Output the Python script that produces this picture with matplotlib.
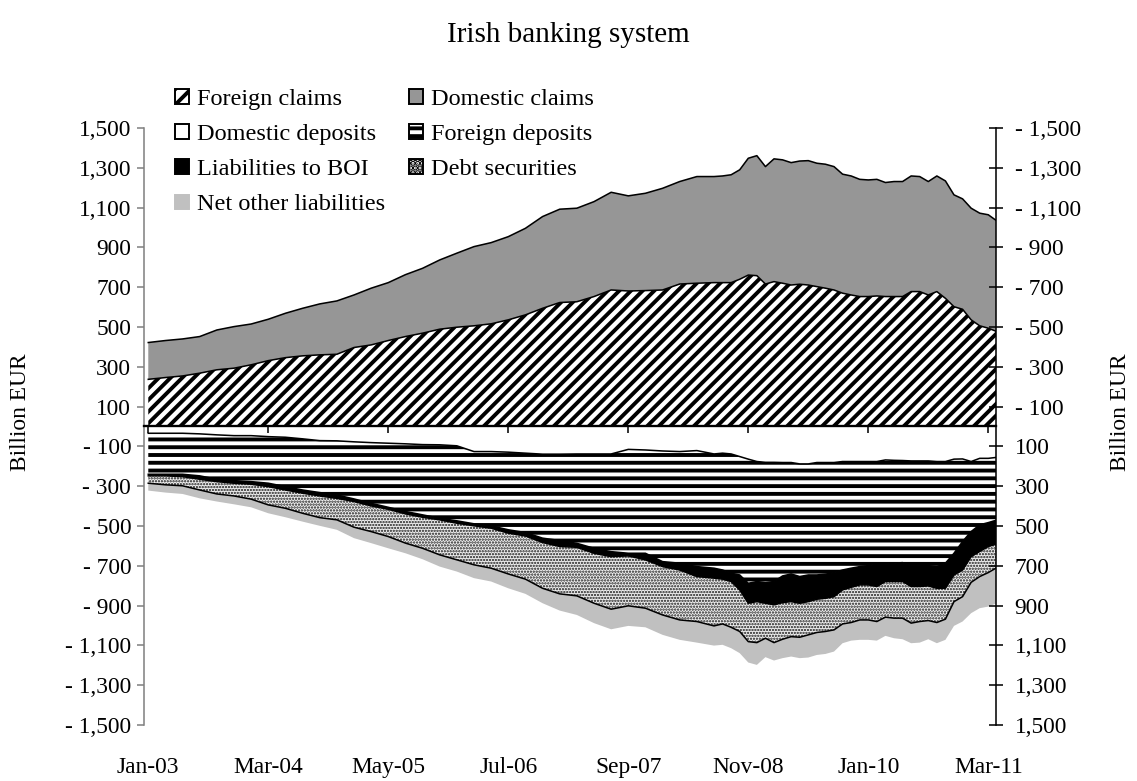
import matplotlib
matplotlib.use('Agg')
import matplotlib.pyplot as plt
import matplotlib.patches as mpatches
from matplotlib.ticker import FuncFormatter
import numpy as np
import pandas as pd

# bi-monthly to mid-2008, monthly afterwards (billion EUR)
dates = ['2003-01', '2003-03', '2003-05', '2003-07', '2003-09', '2003-11',
         '2004-01', '2004-03', '2004-05', '2004-07', '2004-09', '2004-11',
         '2005-01', '2005-03', '2005-05', '2005-07', '2005-09', '2005-11',
         '2006-01', '2006-03', '2006-05', '2006-07', '2006-09', '2006-11',
         '2007-01', '2007-03', '2007-05', '2007-07', '2007-09', '2007-11',
         '2008-01', '2008-03', '2008-05',
         '2008-07', '2008-08', '2008-09', '2008-10', '2008-11', '2008-12',
         '2009-01', '2009-02', '2009-03', '2009-04', '2009-05', '2009-06',
         '2009-07', '2009-08', '2009-09', '2009-10', '2009-11', '2009-12',
         '2010-01', '2010-02', '2010-03', '2010-04', '2010-05', '2010-06',
         '2010-07', '2010-08', '2010-09', '2010-10', '2010-11', '2010-12',
         '2011-01', '2011-02', '2011-03', '2011-04']

foreign_claims = [237, 246, 254, 268, 285, 293, 310, 331, 346, 355, 360, 363,
                  397, 410, 432, 452, 469, 489, 499, 506, 516, 536, 561, 594,
                  623, 627, 653, 686, 681, 683, 686, 716, 720,
                  723, 723, 723, 740, 761, 758, 716, 728, 720, 711, 715, 711,
                  703, 695, 686, 670, 661, 653, 653, 656, 653, 653, 653, 678,
                  678, 661, 678, 644, 602, 589, 536, 506, 494, 477]
domestic_claims = [185, 186, 186, 184, 200, 209, 205, 208, 223, 239, 256, 268,
                   264, 285, 291, 311, 326, 348, 372, 398, 408, 418, 435, 461,
                   469, 470, 477, 491, 478, 489, 511, 515, 536,
                   533, 536, 542, 550, 587, 603, 590, 617, 620, 615, 619, 625,
                   620, 623, 620, 598, 598, 589, 586, 586, 573, 578, 578, 581,
                   578, 570, 581, 590, 562, 555, 561, 566, 570, 556]
domestic_deposits = [34, 34, 34, 37, 42, 46, 46, 51, 54, 62, 71, 72,
                     77, 81, 84, 87, 91, 92, 97, 126, 126, 129, 134, 139,
                     139, 138, 138, 138, 115, 118, 123, 126, 121,
                     138, 134, 138, 151, 164, 176, 180, 180, 181, 181, 188, 188,
                     181, 181, 181, 176, 176, 176, 176, 176, 168, 170, 171, 173,
                     173, 173, 176, 176, 164, 163, 176, 160, 160, 155]
foreign_deposits = [206, 206, 206, 211, 223, 226, 231, 234, 248, 257, 261, 272,
                    287, 305, 322, 340, 353, 369, 377, 363, 373, 390, 399, 422,
                    434, 449, 474, 491, 522, 519, 556, 561, 583,
                    574, 587, 599, 595, 624, 603, 604, 599, 570, 560, 566, 558,
                    565, 561, 553, 545, 536, 528, 523, 516, 524, 517, 513, 527,
                    527, 526, 528, 511, 473, 415, 352, 334, 323, 315]
liabilities_boi = [8, 8, 12, 17, 12, 13, 13, 17, 17, 16, 17, 17,
                   13, 13, 10, 12, 12, 8, 12, 10, 12, 17, 17, 22,
                   30, 20, 25, 25, 13, 33, 25, 34, 50,
                   50, 46, 42, 75, 100, 101, 104, 117, 134, 139, 134, 134,
                   122, 121, 121, 100, 96, 92, 97, 112, 87, 92, 95, 104,
                   104, 102, 109, 126, 109, 143, 126, 134, 120, 120]
debt_securities = [37, 45, 46, 54, 62, 64, 75, 92, 92, 101, 109, 108,
                   129, 129, 137, 147, 156, 176, 184, 196, 201, 205, 217, 230,
                   238, 244, 251, 264, 251, 243, 243, 251, 226,
                   240, 225, 230, 209, 193, 206, 176, 190, 184, 176, 171, 167,
                   167, 167, 167, 171, 177, 176, 176, 176, 179, 184, 184, 184,
                   176, 174, 172, 155, 134, 134, 129, 126, 131, 119]
net_other_liabilities = [37, 39, 41, 42, 38, 42, 41, 42, 45, 42, 41, 50,
                         55, 58, 59, 51, 55, 59, 59, 67, 67, 72, 74, 75,
                         84, 96, 100, 101, 101, 96, 100, 100, 106,
                         99, 105, 105, 109, 105, 112, 95, 90, 95, 100, 105, 114,
                         113, 113, 109, 97, 91, 100, 100, 96, 94, 101, 106, 101,
                         106, 94, 104, 104, 122, 125, 155, 159, 171, 179]

tick_dates = ['2003-01', '2004-03', '2005-05', '2006-07',
              '2007-09', '2008-11', '2010-01', '2011-03']

plt.rcParams['font.family'] = ['Liberation Serif', 'DejaVu Serif']
plt.rcParams['hatch.linewidth'] = 2.0
plt.rcParams['hatch.color'] = 'black'

W, H, DPI = 1137, 781, 140
fig = plt.figure(figsize=(W / DPI, H / DPI), dpi=DPI)
ax = fig.add_axes([144 / W, 1 - 725 / H, (996 - 144) / W, (725 - 128) / H])


def month_index(d):
    p = pd.Period(d, 'M')
    return (p.year - 2003) * 12 + p.month - 1


x = np.array([month_index(d) for d in dates])

fc = np.array(foreign_claims)
dc = np.array(domestic_claims)
top1 = fc
top2 = fc + dc
b1 = -np.array(domestic_deposits)
b2 = b1 - np.array(foreign_deposits)
b3 = b2 - np.array(liabilities_boi)
b4 = b3 - np.array(debt_securities)
b5 = b4 - np.array(net_other_liabilities)

fs = 12
DIAG, STRIPE, DOTS = '////', '---', '........'

ax.fill_between(x, 0, top1, facecolor='white', edgecolor='black', hatch=DIAG, linewidth=0)
ax.fill_between(x, top1, top2, facecolor='#969696', linewidth=0)
ax.fill_between(x, 0, b1, facecolor='white', linewidth=0)
ax.fill_between(x, b1, b2, facecolor='white', edgecolor='black', hatch=STRIPE, linewidth=0)
ax.fill_between(x, b2, b3, facecolor='black', linewidth=0)
ds = ax.fill_between(x, b3, b4, facecolor='#eeeeee', edgecolor='#1a1a1a',
                     hatch=DOTS, linewidth=0)
try:
    ds.set_hatch_linewidth(0.8)
except AttributeError:
    pass
ax.fill_between(x, b4, b5, facecolor='#c0c0c0', linewidth=0)

for yy in [top1, top2, b1, b2, b3, b4]:
    ax.plot(x, yy, color='black', lw=0.8)

ax.set_xlim(-0.5, 98.9)
ax.set_ylim(-1500, 1500)
yt = np.arange(-1500, 1501, 200)
ax.set_yticks(yt)


def left_fmt(v, pos):
    s = f'{abs(v):,.0f}'
    return s if v > 0 else '- ' + s


def right_fmt(v, pos):
    s = f'{abs(v):,.0f}'
    return '- ' + s if v > 0 else s


ax.yaxis.set_major_formatter(FuncFormatter(left_fmt))
ax.tick_params(axis='y', direction='out', length=3.6, width=0.8, color='#808080',
               labelsize=fs, pad=3)
ax.spines['left'].set_color('#808080')
ax.spines['top'].set_visible(False)
ax.spines['right'].set_visible(False)
ax.spines['bottom'].set_position(('data', 0))
ax.spines['bottom'].set_linewidth(1.2)

tick_pos = [month_index(d) for d in tick_dates]
tick_lab = [pd.Period(d, 'M').strftime('%b-%y') for d in tick_dates]
ax.set_xticks(tick_pos)
ax.tick_params(axis='x', direction='out', length=3.6, width=0.8, labelbottom=False)

sec = ax.secondary_xaxis('bottom')
sec.set_xticks(tick_pos, tick_lab)
sec.tick_params(length=0, pad=16.5, labelsize=fs)
sec.spines['bottom'].set_visible(False)

ax2 = ax.twinx()
ax2.set_ylim(-1500, 1500)
ax2.set_yticks(yt)
ax2.yaxis.set_major_formatter(FuncFormatter(right_fmt))
ax2.tick_params(axis='y', direction='inout', length=7.2, width=0.8, labelsize=fs, pad=6)
for s in ['top', 'left', 'bottom']:
    ax2.spines[s].set_visible(False)

fig.text(20 / W, 1 - 412 / H, 'Billion EUR', rotation=90, ha='center', va='center', fontsize=fs)
fig.text(1120 / W, 1 - 412 / H, 'Billion EUR', rotation=90, ha='center', va='center', fontsize=fs)
fig.text(568 / W, 1 - 35 / H, 'Irish banking system', ha='center', va='center', fontsize=15)

handles = [
    mpatches.Patch(facecolor='white', edgecolor='black', hatch='///', label='Foreign claims'),
    mpatches.Patch(facecolor='white', edgecolor='black', label='Domestic deposits'),
    mpatches.Patch(facecolor='black', edgecolor='black', label='Liabilities to BOI'),
    mpatches.Patch(facecolor='#c0c0c0', edgecolor='#c0c0c0', label='Net other liabilities'),
    mpatches.Patch(facecolor='#969696', edgecolor='black', label='Domestic claims'),
    mpatches.Patch(facecolor='white', edgecolor='black', hatch='---', label='Foreign deposits'),
    mpatches.Patch(facecolor='#eeeeee', edgecolor='black', hatch='.....', label='Debt securities'),
]
fig.legend(handles=handles, ncol=2, loc='upper left',
           bbox_to_anchor=(163 / W, 1 - 77 / H), frameon=False, fontsize=12.5,
           borderpad=0, handlelength=0.55, handleheight=0.55, handletextpad=0.35,
           labelspacing=0.58, columnspacing=1.0)

fig.savefig('out.png', dpi=DPI)
